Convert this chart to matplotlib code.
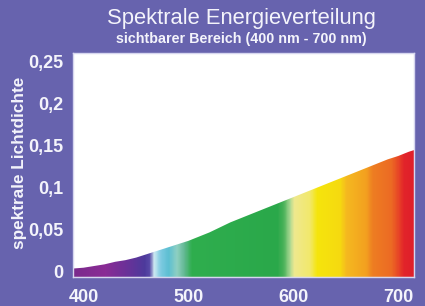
import numpy as np
import matplotlib
matplotlib.use('Agg')
import matplotlib.pyplot as plt
from matplotlib.colors import LinearSegmentedColormap, to_rgb

# curve (every 10 nm)
wavelength = [390, 400, 410, 420, 430, 440, 450, 460, 470, 480, 490, 500, 510, 520,
              530, 540, 550, 560, 570, 580, 590, 600, 610, 620, 630, 640, 650, 660,
              670, 680, 690, 700, 710, 715]
lichtdichte = [0.004, 0.005, 0.007, 0.009, 0.012, 0.014, 0.017, 0.021, 0.025, 0.029,
               0.033, 0.037, 0.042, 0.047, 0.053, 0.059, 0.064, 0.069, 0.074, 0.079,
               0.084, 0.089, 0.094, 0.099, 0.104, 0.109, 0.114, 0.119, 0.124, 0.129,
               0.134, 0.138, 0.143, 0.145]

x_ticks = [400, 500, 600, 700]
y_ticks = [0, 0.05, 0.1, 0.15, 0.2, 0.25]
y_labels = ['0', '0,05', '0,1', '0,15', '0,2', '0,25']

# spectrum colour stops (nm, colour)
spec_nm = [390, 420, 440, 458, 463, 467, 473, 481, 489, 496, 503, 585, 591, 597,
           601, 616, 623, 645, 651, 670, 676, 694, 700, 706, 715]
spec_col = ['#7a2a8c', '#8a2c95', '#6c3198', '#4d3a9c', '#5a4ba8', '#cfeaf2', '#80cbe2',
            '#5cbfd2', '#8fd0c2', '#62b892', '#2fae4e', '#2aa84a', '#4ab25a', '#a9d892',
            '#efe98f', '#f2e86c', '#f5e50c', '#f6da10', '#f5b920', '#f3a01f', '#ee7e22',
            '#ec6a24', '#e84a26', '#e2242a', '#df1f2a']

bg = '#6763ae'

fig = plt.figure(figsize=(4.25, 3.06), dpi=100, facecolor=bg)
ax = fig.add_axes([0.172, 0.095, 0.802, 0.732])
ax.set_facecolor('white')

x0, x1 = 390, 715
y0, y1 = -0.006, 0.2607

# gradient image, clipped to the area under the curve
lo, hi = spec_nm[0], spec_nm[-1]
cmap = LinearSegmentedColormap.from_list(
    'spec', [((n - lo) / (hi - lo), to_rgb(c)) for n, c in zip(spec_nm, spec_col)], N=512)
grad = np.linspace(0, 1, 600).reshape(1, -1)
img = ax.imshow(grad, cmap=cmap, aspect='auto', extent=[lo, hi, y0, y1],
                interpolation='bilinear', zorder=2)
poly = ax.fill_between(wavelength, y0, lichtdichte, color='none', lw=0)
clip = poly.get_paths()[0]
img.set_clip_path(clip, transform=ax.transData)

ax.set_xlim(x0, x1)
ax.set_ylim(y0, y1)
ax.set_xticks(x_ticks)
ax.set_yticks(y_ticks)
ax.set_yticklabels(y_labels)
ax.tick_params(length=0, colors='white')
ax.tick_params(axis='x', pad=9)
ax.tick_params(axis='y', pad=7)
for lab in ax.get_xticklabels() + ax.get_yticklabels():
    lab.set_fontfamily('Liberation Sans')
    lab.set_fontweight('bold')
    lab.set_fontsize(13)
    lab.set_color('#f4f4fb')
for s in ax.spines.values():
    s.set_color('#d6d6ef')
    s.set_linewidth(1.0)

ax.set_ylabel('spektrale Lichtdichte', family='Liberation Sans', fontsize=12.3,
              fontweight='bold', color='#f4f4fb')
ax.yaxis.label.set_va('center')
ax.yaxis.set_label_coords(-0.158, 0.51)

fig.text(0.567, 0.938, 'Spektrale Energieverteilung', family='Liberation Sans',
         fontsize=15.8, color='#f4f4fb', ha='center', va='center')
fig.text(0.567, 0.874, 'sichtbarer Bereich (400 nm - 700 nm)', family='Liberation Sans',
         fontsize=10.3, fontweight='bold', color='#f4f4fb', ha='center', va='center')

plt.savefig('out.png', dpi=100, facecolor=bg)
